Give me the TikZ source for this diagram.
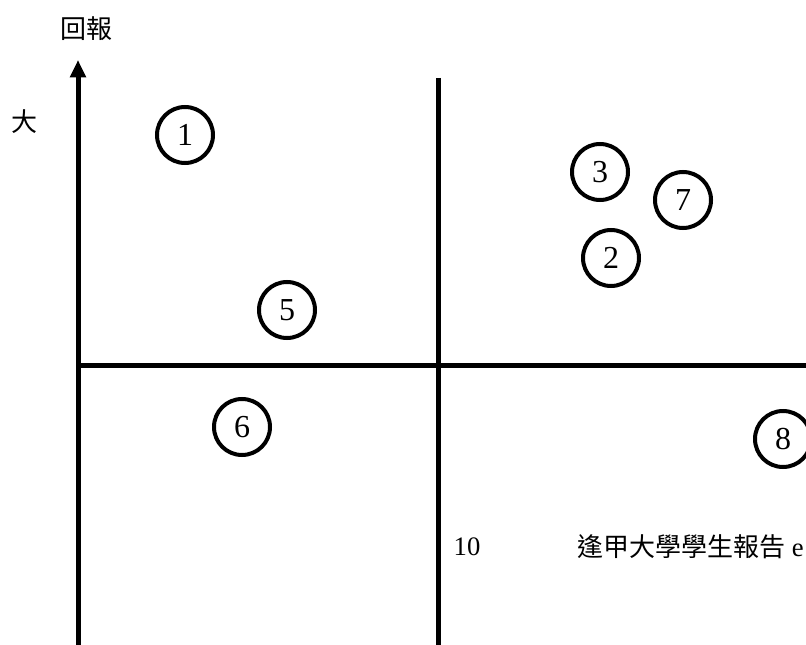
\documentclass[tikz,border=0pt]{standalone}
\usepackage{fontspec}
\setmainfont{Liberation Serif}
\newfontfamily\cjk{Noto Sans CJK TC}
\usetikzlibrary{arrows.meta}
\definecolor{AxisBlack}{RGB}{0, 0, 0}

\tikzset{
  axisline/.style={draw=AxisBlack, line width=3.75pt},
  itemdot/.style={circle, draw=AxisBlack, line width=3pt, minimum size=42pt,
                  inner sep=0pt, font=\fontsize{24}{26}\selectfont},
  cjklabel/.style={inner sep=0pt, font=\fontsize{19.5}{22}\selectfont\cjk}
}

\begin{document}
\begin{tikzpicture}[x=0.75pt, y=-0.75pt]
  \useasboundingbox (0,0) rectangle (806,645);
  \clip (0,0) rectangle (806,645);

  % axes and quadrant lines
  \coordinate (ybot) at (78,645);
  \coordinate (ytop) at (78,60);
  \coordinate (hleft) at (78,365);
  \coordinate (hright) at (806,365);
  \coordinate (mtop) at (438,78);
  \coordinate (mbot) at (438,645);
  \draw[axisline, -{Triangle[width=11.5pt, length=13pt]}] (ybot) -- (ytop);
  \draw[axisline] (hleft) -- (hright);
  \draw[axisline] (mtop) -- (mbot);

  \node[cjklabel] (ylabel) at (86,29) {回報};
  \node[cjklabel] (ybig) at (25,122) {大};

  % numbered items
  \foreach \n/\px/\py in {1/185/135, 3/600/172, 7/683/200, 2/611/258,
                          5/287/310, 6/242/427, 8/783/439}
    \node[itemdot] (c\n) at (\px,\py) {\n};

  \node[inner sep=0pt, font=\fontsize{20}{22}\selectfont] (pageno) at (467,547) {10};
  \node[inner sep=0pt, anchor=west, font=\fontsize{20}{22}\selectfont] (source) at (577,547)
    {{\fontsize{19.5}{22}\selectfont\cjk 逢甲大學學生報告} e};
\end{tikzpicture}
\end{document}
